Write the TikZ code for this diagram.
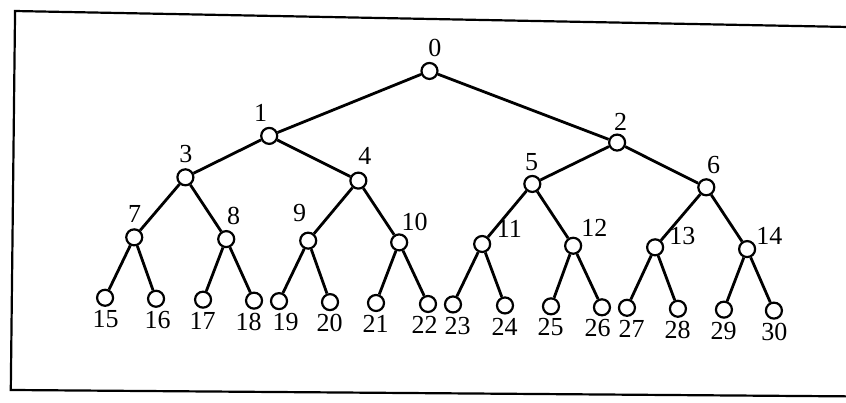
\documentclass[tikz,border=0pt]{standalone}
\usepackage{fontspec}
\setmainfont{Liberation Serif}
\usetikzlibrary{calc}

\tikzset{
  vertex/.style = {draw, circle, line width=2.2pt, minimum size=16pt, inner sep=0pt},
  edge/.style = {line width=2.8pt},
  num/.style = {inner sep=0pt, font=\fontsize{26}{26}\selectfont},
}

\begin{document}
\begin{tikzpicture}[x=1pt, y=-1pt]
	\useasboundingbox (0,0) rectangle (846,403);
	\begin{scope}[rotate around={-1.1:(430,200)}]
		% open frame
		\draw[line width=2.2pt] (880,19) -- (11.5,19) -- (14.5,398) -- (880,388);
		% vertices, one level per line
		\foreach \n/\x/\y in {0/427/71,
				1/268/139, 2/616/139,
				3/185/182, 4/358/182, 5/532/182, 6/706/182,
				7/135/243, 8/227/243, 9/309/243, 10/400/243, 11/483/243, 12/574/243, 13/656/243, 14/748/243,
				15/107/304, 16/158/304, 17/205/304, 18/256/304, 19/281/304, 20/332/304, 21/378/304, 22/430/304,
				23/455/304, 24/507/304, 25/553/304, 26/604/304, 27/629/304, 28/680/304, 29/726/304, 30/776/304}
			\node[vertex] (n\n) at (\x,\y) {};
		% parent i has children 2i+1 and 2i+2
		\foreach \p in {0,...,14} {
			\pgfmathtruncatemacro{\cl}{2*\p+1}
			\pgfmathtruncatemacro{\cr}{2*\p+2}
			\draw[edge] (n\p) -- (n\cl);
			\draw[edge] (n\p) -- (n\cr);
		}
		% numbers
		\foreach \n/\dx/\dy in {0/5/-23,
				1/-9/-23, 2/3/-21,
				3/0/-23, 4/6/-25, 5/-1/-22, 6/7/-22,
				7/0/-23, 8/7/-23, 9/-9/-27, 10/15/-21, 11/27/-16, 12/21/-18, 13/27/-12, 14/22/-14}
			\node[num] at ($(n\n)+(\dx,\dy)$) {\n};
		\foreach \n/\dx in {15/1, 16/2, 17/0, 18/-5, 19/7, 20/0, 21/0, 22/-3,
				23/5, 24/0, 25/0, 26/-4, 27/5, 28/0, 29/0, 30/1}
			\node[num] at ($(n\n)+(\dx,21)$) {\n};
	\end{scope}
\end{tikzpicture}
\end{document}
